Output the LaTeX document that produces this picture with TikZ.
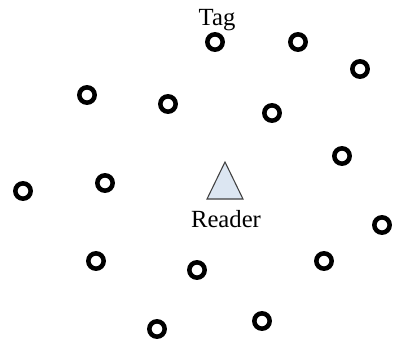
\documentclass[tikz,border=0pt]{standalone}
\usepackage{fontspec}
\setmainfont{Liberation Serif}
\definecolor{readerfill}{HTML}{DCE6F2}
\definecolor{readerline}{HTML}{404040}
\begin{document}
\begin{tikzpicture}[x=0.75pt,y=-0.75pt,
  tagmark/.style={circle,draw=black,line width=3.4pt,minimum size=11.5pt,inner sep=0pt},
  caption/.style={anchor=base,inner sep=0pt,font=\fontsize{18.5}{20}\selectfont},
  readermark/.style={draw=readerline,fill=readerfill,line width=0.8pt,line join=miter}]
\useasboundingbox (0,0) rectangle (393,344);
% tags scattered around the reader
\node[tagmark] (t1)  at (215,42)  {};
\node[tagmark] (t2)  at (298,42)  {};
\node[tagmark] (t3)  at (360,69)  {};
\node[tagmark] (t4)  at (87,95)   {};
\node[tagmark] (t5)  at (168,104) {};
\node[tagmark] (t6)  at (272,113) {};
\node[tagmark] (t7)  at (342,156) {};
\node[tagmark] (t8)  at (23,191)  {};
\node[tagmark] (t9)  at (105,183) {};
\node[tagmark] (t10) at (382,225) {};
\node[tagmark] (t11) at (96,261)  {};
\node[tagmark] (t12) at (197,270) {};
\node[tagmark] (t13) at (324,261) {};
\node[tagmark] (t14) at (157,329) {};
\node[tagmark] (t15) at (262,321) {};
\node[caption] (taglabel) at (217,25) {Tag};
% the reader
\coordinate (rtop) at (225,162);
\coordinate (rleft) at (207,199);
\coordinate (rright) at (243,199);
\draw[readermark] (rtop) -- (rleft) -- (rright) -- cycle;
\node[caption] (readerlabel) at (226,227) {Reader};
\end{tikzpicture}
\end{document}
